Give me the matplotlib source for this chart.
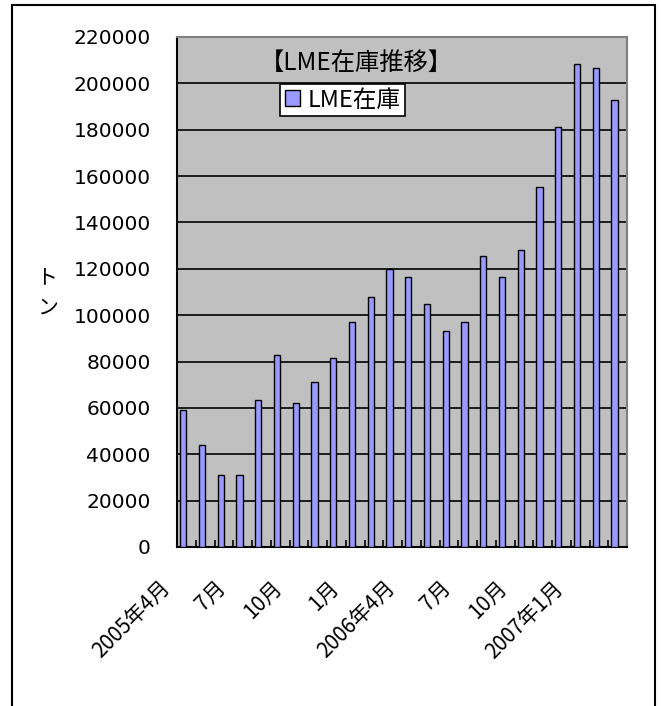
import matplotlib
matplotlib.use("Agg")
import matplotlib.pyplot as plt
import matplotlib.transforms as mtransforms
from matplotlib.patches import Rectangle
import numpy as np

plt.rcParams['font.family'] = ['Noto Sans CJK JP', 'DejaVu Sans']

# monthly LME stock, 2005-04 .. 2007-03
month_labels = ["2005年4月", "", "", "7月", "", "", "10月", "", "", "1月", "", "",
                "2006年4月", "", "", "7月", "", "", "10月", "", "", "2007年1月", "", ""]
stock = [59000, 44000, 31000, 31000, 63500, 83000, 62000, 71000, 81500, 97000,
         108000, 120000, 116500, 105000, 93000, 97000, 125500, 116500, 128000,
         155500, 181000, 208500, 206500, 193000]
y_ticks = list(range(0, 220001, 20000))

fig = plt.figure(figsize=(6.61, 7.06), dpi=100)
ax = fig.add_axes([177 / 661, (706 - 547) / 706, 450 / 661, 510 / 706])
ax.set_facecolor("#C0C0C0")

x = np.arange(len(stock))
ax.bar(x - 0.165, stock, width=0.33, color="#9999FF", edgecolor="black",
       linewidth=1, label="LME在庫", zorder=3)

ax.set_xlim(-0.5, len(stock) - 0.5)
ax.set_ylim(0, 220000)
ax.set_yticks(y_ticks)
ax.set_yticklabels([str(v) for v in y_ticks])
ax.yaxis.grid(True, color="black", linewidth=1.2, zorder=1)
ax.set_axisbelow(True)
ax.tick_params(axis="y", length=0, pad=19, labelsize=14.5)
for lbl in ax.get_yticklabels():
    lbl.set_fontfamily("DejaVu Sans")

# labels at category centres, boundary ticks as minor ticks
ax.set_xticks(x)
ax.set_xticklabels(month_labels, rotation=45, ha="right", va="center",
                   rotation_mode="anchor", fontsize=15)
ax.tick_params(axis="x", which="major", length=0, pad=27)
offset = mtransforms.ScaledTranslation(-0.2, 0, fig.dpi_scale_trans)
for lbl in ax.get_xticklabels():
    lbl.set_transform(lbl.get_transform() + offset)
ax.set_xticks(np.arange(0.5, len(stock) - 0.5), minor=True)
ax.tick_params(axis="x", which="minor", direction="in", length=5, width=1.2, color="black")

for side in ["left", "bottom"]:
    ax.spines[side].set_color("black")
    ax.spines[side].set_linewidth(1.5)
for side in ["top", "right"]:
    ax.spines[side].set_color("#808080")
    ax.spines[side].set_linewidth(1.5)

ax.text(0.398, 0.949, "【LME在庫推移】", transform=ax.transAxes,
        ha="center", va="center", fontsize=17.5)

leg = ax.legend(loc="upper left", bbox_to_anchor=(0.229, 0.908), borderaxespad=0,
                fancybox=False, edgecolor="black", framealpha=1, fontsize=17,
                handlelength=0.65, handleheight=0.65, handletextpad=0.3,
                borderpad=0.2)
leg.get_frame().set_linewidth(1.2)

fig.text(47 / 661, 1 - 292 / 706, "ト\nン", ha="center", va="center",
         fontsize=15, linespacing=1.5)

# outer chart border, running off the bottom of the picture
fig.add_artist(Rectangle((12 / 661, -0.1), (655 - 12) / 661, 701 / 706 + 0.1,
                         transform=fig.transFigure, fill=False,
                         edgecolor="black", linewidth=1.5))

fig.savefig("out.png", dpi=100)
